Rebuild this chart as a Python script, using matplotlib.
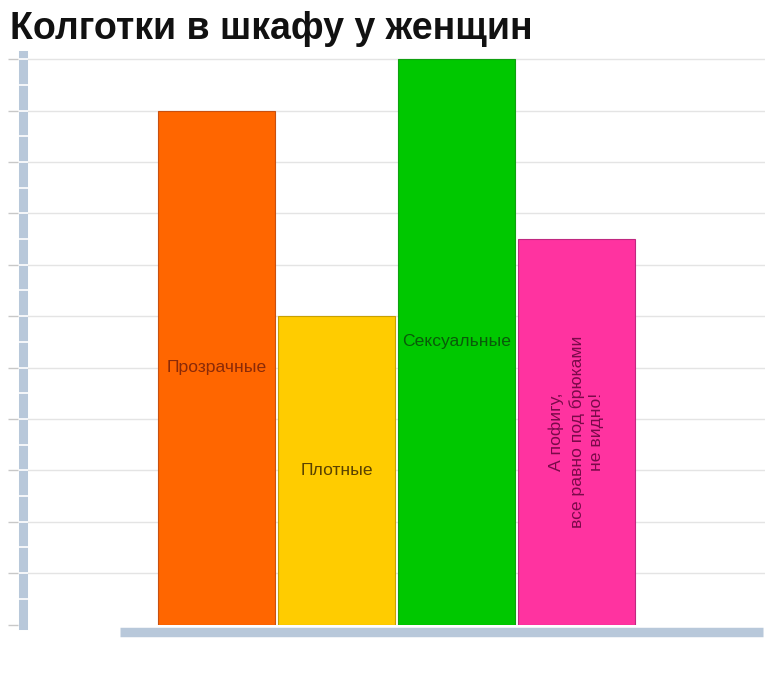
import matplotlib
matplotlib.use("Agg")
import matplotlib.pyplot as plt
import matplotlib.transforms as mtransforms

title = "Колготки в шкафу у женщин"
categories = ["Прозрачные", "Плотные", "Сексуальные",
              "А пофигу,\nвсе равно под брюками\nне видно!"]
values = [10, 6, 11, 7.5]
bar_colors = ["#ff6600", "#ffcc00", "#00c800", "#ff33a0"]
edge_colors = ["#c85010", "#c8a000", "#10a010", "#c02880"]
text_colors = ["#8a2a08", "#5a4200", "#0a5a0a", "#7a0a4a"]
rotations = [0, 0, 0, 90]
y_ticks = list(range(0, 12))

plt.rcParams['font.family'] = ['Liberation Sans', 'DejaVu Sans']

fig = plt.figure(figsize=(7.65, 6.75), dpi=100)
W, H = 765, 675
left_px, right_px, bottom_px, top_px = 22.5, 765, 624.5, 55
ax = fig.add_axes([left_px / W, 1 - bottom_px / H,
                   (right_px - left_px) / W, (bottom_px - top_px) / H])

x = list(range(len(values)))
ax.bar(x, values, width=0.967, color=bar_colors, edgecolor=edge_colors,
       linewidth=0.8, zorder=3)

for xi, v, lab, tc, rot in zip(x, values, categories, text_colors, rotations):
    ax.text(xi, v / 2, lab, color=tc, rotation=rot, ha='center', va='center',
            fontsize=12.6, linespacing=1.36, zorder=4)

px_per_unit = 51.4
ax.set_xlim((left_px - 216.5) / 120, (right_px - 216.5) / 120)
ax.set_ylim(0, (bottom_px - top_px) / px_per_unit)

# gridlines
for t in y_ticks[1:]:
    ax.axhline(t, color='#e4e4e4', lw=1, zorder=1)

for s in ['top', 'right', 'bottom']:
    ax.spines[s].set_visible(False)
ax.spines['left'].set_color('#b8c8da')
ax.spines['left'].set_linewidth(6.5)
ax.spines['left'].set_zorder(2)
ax.set_xticks([])
ax.set_yticks([])

blend = mtransforms.blended_transform_factory(ax.transAxes, ax.transData)
# white stripes across left bar and gray ticks on the left
half_ticks = [t / 2 for t in range(1, 2 * y_ticks[-1] + 1)]
ax.hlines(half_ticks, -0.007, 0.007, colors='white', lw=1.2,
          transform=blend, zorder=5, clip_on=False)
ax.hlines(y_ticks[1:] + [0], -0.019, -0.006, colors='#c8c8c8', lw=1,
          transform=blend, zorder=5, clip_on=False)

# bottom axis bar
ax.plot([(120 - left_px) / (right_px - left_px), (763 - left_px) / (right_px - left_px)],
        [-(632 - bottom_px) / (bottom_px - top_px)] * 2,
        color='#b8c8da', lw=6.8, solid_capstyle='butt',
        transform=ax.transAxes, clip_on=False, zorder=2)

fig.text(10 / W, 1 - 39 / H, title, fontsize=27, fontweight='bold',
         ha='left', va='baseline', color='#111111')

fig.savefig("out.png", dpi=100, facecolor='white')
